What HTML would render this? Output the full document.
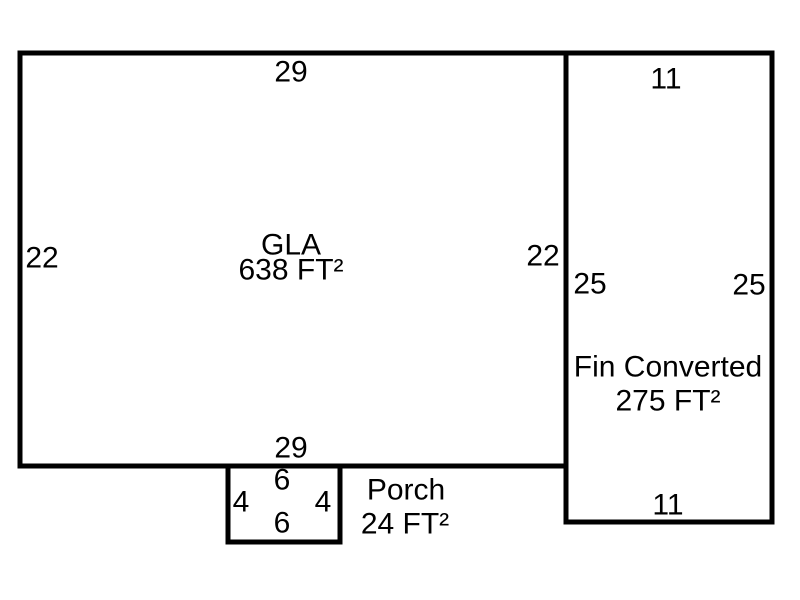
<!DOCTYPE html>
<html><head><style>
html,body{margin:0;padding:0;background:#fff;}
svg{display:block;}
text{font-family:"Liberation Sans",sans-serif;font-size:30px;fill:#000;text-anchor:middle;dominant-baseline:central;}
</style></head><body>
<svg width="800" height="600" viewBox="0 0 800 600">
<rect x="0" y="0" width="800" height="600" fill="#fff"/>
<g fill="none" stroke="#000" stroke-width="5">
<rect x="20" y="53" width="546" height="413"/>
<rect x="566" y="53" width="206" height="469"/>
<rect x="228" y="466" width="112" height="76"/>
</g>
<text x="291" y="72">29</text>
<text x="42" y="258">22</text>
<text x="291" y="245">GLA</text>
<text x="291" y="270">638 FT²</text>
<text x="543" y="256">22</text>
<text x="291" y="448">29</text>
<text x="666" y="79">11</text>
<text x="590" y="284">25</text>
<text x="749" y="285">25</text>
<text x="668" y="367">Fin Converted</text>
<text x="668" y="401">275 FT²</text>
<text x="668" y="505">11</text>
<text x="282" y="480">6</text>
<text x="241" y="502">4</text>
<text x="323" y="502">4</text>
<text x="282" y="523">6</text>
<text x="406" y="490">Porch</text>
<text x="405" y="524">24 FT²</text>
</svg>
</body></html>
